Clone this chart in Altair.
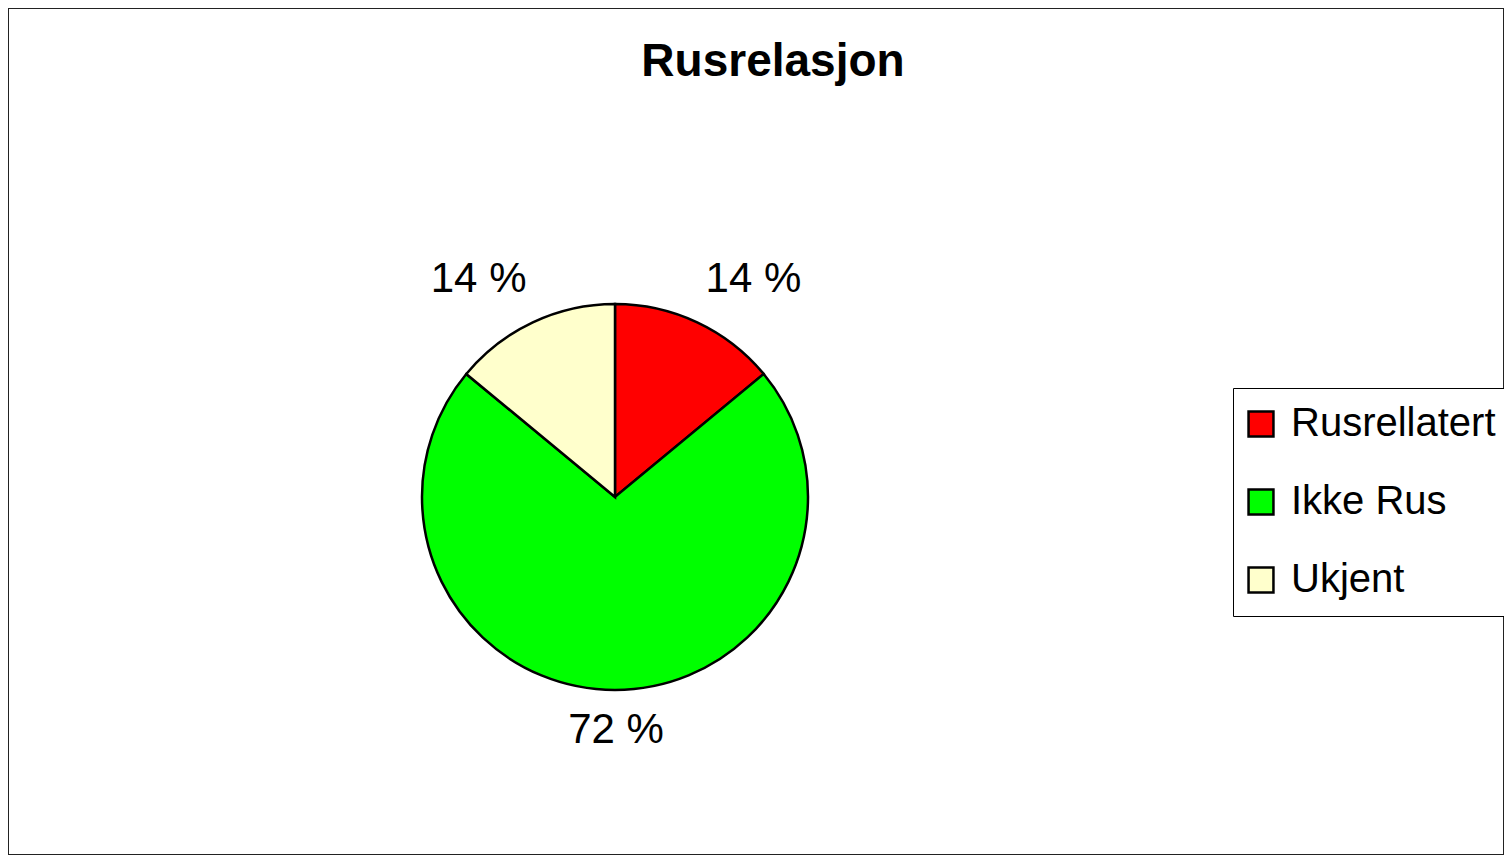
import altair as alt
import pandas as pd

categories = ["Rusrellatert", "Ikke Rus", "Ukjent"]
values = [14, 72, 14]
order = [0, 1, 2]
colors = ["#FF0000", "#00FF00", "#FFFFCC"]

df = pd.DataFrame({"category": categories, "value": values, "order": order})

FONT = "Liberation Sans"
CX, CY, R = 607, 489, 193

base = alt.Chart(df)
theta_scale = alt.Scale(domain=[0, 100])

pie = base.mark_arc(radius=R, stroke="black", strokeWidth=2.5).encode(
    theta=alt.Theta("value:Q", stack=True, scale=theta_scale),
    order=alt.Order("order:Q"),
    color=alt.Color(
        "category:N",
        scale=alt.Scale(domain=categories, range=colors),
        sort=categories,
        legend=alt.Legend(
            title=None,
            orient="none",
            legendX=1225,
            legendY=380,
            symbolType="square",
            symbolSize=620,
            symbolStrokeColor="black",
            symbolStrokeWidth=2.5,
            symbolOffset=-8,
            labelFont=FONT,
            labelFontSize=40,
            labelColor="black",
            labelOffset=10,
            rowPadding=38,
            padding=16,
            strokeColor="black",
            fillColor="white",
            labelLimit=400,
        ),
    ),
    x=alt.value(CX),
    y=alt.value(CY),
)

lab = base.transform_window(
    cum="sum(value)", sort=[alt.SortField("order")], frame=[None, 0]
).transform_calculate(
    mid="datum.cum - datum.value / 2", label="datum.value + ' %'"
)

def label_layer(flt, align, radius, dx=0, dy=0):
    return lab.transform_filter(flt).mark_text(
        align=align, baseline="alphabetic", radius=radius,
        font=FONT, fontSize=42, color="black", dx=dx, dy=dy
    ).encode(
        theta=alt.Theta("mid:Q", stack=False, scale=theta_scale),
        text="label:N",
        x=alt.value(CX),
        y=alt.value(CY),
    )

right = label_layer("datum.mid < 40", "left", 222, dx=-4, dy=-4)
bottom = label_layer("datum.mid >= 40 && datum.mid <= 60", "center", 247, dx=1, dy=-1)
left = label_layer("datum.mid > 60", "right", 222, dx=6, dy=-4)

chart = alt.layer(pie, right, bottom, left).properties(
    width=1496,
    height=847,
    padding=0,
    autosize=alt.AutoSizeParams(type="none"),
    background="white",
    title=alt.TitleParams(
        "Rusrelasjon", font=FONT, fontSize=46, fontWeight="bold",
        color="black", anchor="middle", dx=17, dy=118, baseline="alphabetic",
    ),
).configure_view(stroke="#222222", strokeWidth=2)

chart.save("out.html", embed_options={"renderer": "svg", "actions": False})
